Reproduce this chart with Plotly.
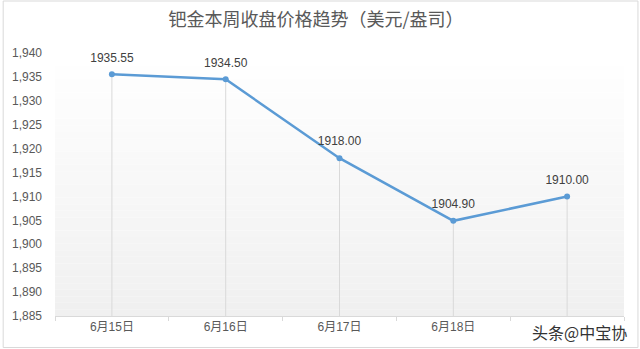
import plotly.graph_objects as go

categories = ["6月15日", "6月16日", "6月17日", "6月18日", "6月19日"]
prices = [1935.55, 1934.50, 1918.00, 1904.90, 1910.00]
price_labels = ["1935.55", "1934.50", "1918.00", "1904.90", "1910.00"]
y_min, y_max, y_step = 1885, 1940, 5
title_text = "钯金本周收盘价格趋势（美元/盎司）"
watermark = "头条@中宝协"

FONT = "Liberation Sans, Noto Sans CJK SC, sans-serif"
CJK = "Noto Sans CJK SC, sans-serif"

# drop lines from each point down to the axis floor
drop_x, drop_y = [], []
for c, v in zip(categories, prices):
    drop_x += [c, c, None]
    drop_y += [v, y_min, None]

fig = go.Figure()
fig.add_trace(go.Scatter(x=drop_x, y=drop_y, mode="lines",
                         line=dict(color="#d9d9d9", width=1),
                         hoverinfo="skip", showlegend=False))
fig.add_trace(go.Scatter(x=categories, y=prices, mode="lines+markers",
                         line=dict(color="#5b9bd5", width=2.5),
                         marker=dict(color="#5b9bd5", size=6),
                         cliponaxis=False, showlegend=False))
# data labels (invisible larger markers give the label some clearance)
fig.add_trace(go.Scatter(x=categories, y=prices, mode="markers+text",
                         text=price_labels, textposition="top center",
                         textfont=dict(size=12, color="#404040", family=FONT),
                         marker=dict(size=14, opacity=0),
                         hoverinfo="skip", cliponaxis=False, showlegend=False))

# gradient plot background (white at top -> light grey at bottom)
shapes = []
n = 40
for i in range(n):
    t = i / (n - 1)
    g = int(round(255 - (255 - 240) * (1 - t)))
    shapes.append(dict(type="rect", xref="x domain", yref="y domain",
                       x0=0, x1=1, y0=i / n, y1=(i + 1) / n,
                       fillcolor=f"rgb({g},{g},{g})", line=dict(width=0),
                       layer="below"))
# outer chart border
W, H = 640, 349
ml, mr, mt, mb = 53, 16, 53, 33
pw, ph = W - ml - mr, H - mt - mb
base = H - mb
shapes.append(dict(type="rect", xref="paper", yref="paper",
                   x0=(1 - ml) / pw, x1=(W - 2 - ml) / pw,
                   y0=(base - (H - 1.5)) / ph, y1=(base - 1) / ph,
                   line=dict(color="#d9d9d9", width=1), fillcolor="rgba(0,0,0,0)",
                   layer="above"))

fig.update_layout(
    width=W, height=H,
    margin=dict(l=ml, r=mr, t=mt, b=mb),
    paper_bgcolor="white", plot_bgcolor="white",
    title=dict(text=title_text, x=(315 - ml) / pw, xref="paper", xanchor="center",
               y=1 - 20 / H, yref="container", yanchor="middle",
               font=dict(size=18, color="#595959", family=CJK)),
    shapes=shapes,
    annotations=[dict(text=watermark, xref="paper", yref="paper",
                      x=(629 - ml) / pw, y=(base - 332) / ph,
                      xanchor="right", yanchor="middle", showarrow=False,
                      font=dict(size=16, color="#333333", family=CJK))],
)
fig.update_xaxes(type="category", range=[-0.5, 4.5], showgrid=False,
                 showline=True, linecolor="#d9d9d9", linewidth=1,
                 ticks="outside", tickson="boundaries", ticklen=4,
                 tickcolor="#d9d9d9", tickvals=categories,
                 ticktext=categories[:4] + [""],
                 tickfont=dict(size=12, color="#595959", family=FONT))
fig.update_yaxes(range=[y_min, y_max], dtick=y_step, tick0=y_min,
                 tickformat=",", showgrid=False, showline=False, zeroline=False,
                 ticks="", ticklabelstandoff=12,
                 tickfont=dict(size=12, color="#595959", family=FONT))

fig.write_html("out.html", config={"displayModeBar": False},
               post_script="document.body.style.margin='0';document.body.style.overflow='hidden';")
